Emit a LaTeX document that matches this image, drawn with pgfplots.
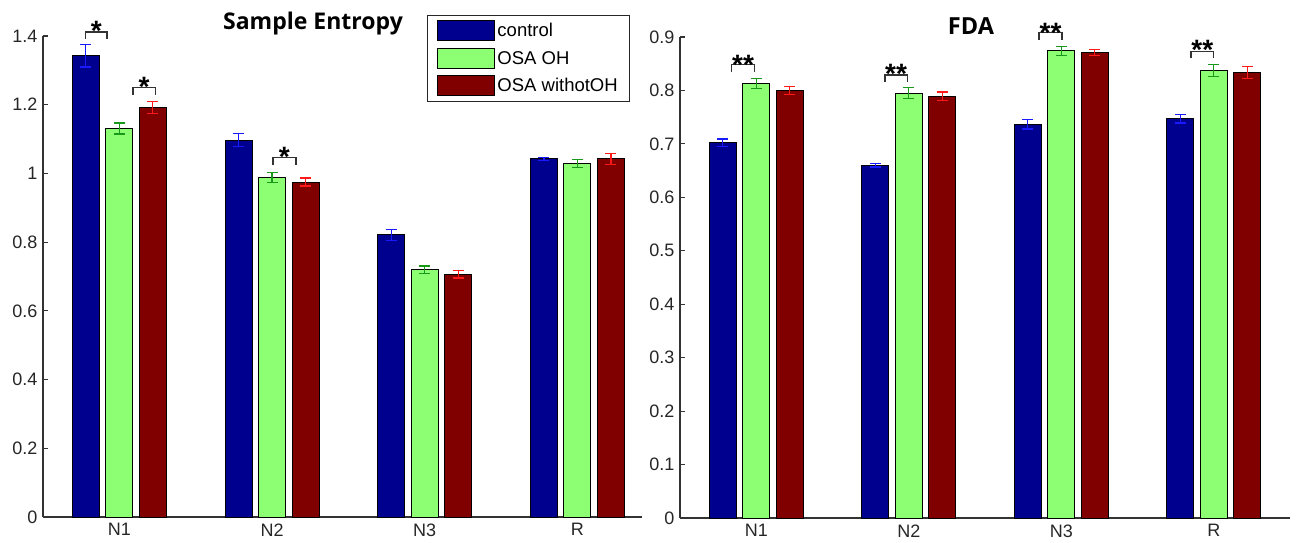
\documentclass[border=0pt]{standalone}
\usepackage{fontspec}
\setmainfont{Liberation Sans}
\newfontfamily\titlefont{Open Sans}
\usepackage{pgfplots}
\pgfplotsset{compat=1.18}

\definecolor{cblue}{rgb}{0,0,0.56}
\definecolor{cgreen}{rgb}{0.55,1,0.45}
\definecolor{cred}{rgb}{0.5,0,0}
\definecolor{eblue}{rgb}{0.1,0.1,1}
\definecolor{egreen}{rgb}{0.1,0.6,0.1}
\definecolor{ered}{rgb}{1,0.1,0.1}

\tikzset{
  brk/.style={line width=1.3pt, black!80},
  star/.style={anchor=north, inner sep=0pt, font=\fontsize{28}{30}\selectfont\bfseries},
}
\pgfplotsset{
  common/.style={
    scale only axis,
    axis lines*=left,
    axis line style={line width=1.2pt, black!80},
    clip=false,
    xmin=0.5, ymin=0,
    xtick={1,2,3,4},
    xticklabels={N1,N2,N3,R},
    major x tick style={draw=none},
    tick align=inside,
    major tick length=5pt,
    major y tick style={line width=1.2pt, black!80},
    tick label style={font=\fontsize{18}{21}\selectfont, text=black!85},
    /pgf/number format/assume math mode=true,
    /pgf/number format/fixed,
    /pgf/number format/precision=1,
    yticklabel style={xshift=-2pt},
    xticklabel style={yshift=-3pt},
  },
  errs/.style={
    error bars/y dir=both, error bars/y explicit,
    error bars/error bar style={#1, line width=1.3pt},
    error bars/error mark options={rotate=90, #1, mark size=5.5pt, line width=1.3pt}},
  barA/.style={ybar, bar width=27pt, bar shift=0pt, fill=cblue, draw=black, line width=1pt, errs=eblue},
  barB/.style={ybar, bar width=27pt, bar shift=0pt, fill=cgreen, draw=black, line width=1pt, errs=egreen},
  barC/.style={ybar, bar width=27pt, bar shift=0pt, fill=cred, draw=black, line width=1pt, errs=ered},
}

\begin{document}
\begin{tikzpicture}
\path[use as bounding box] (0,0) rectangle (1298pt,542pt);

% ---------------- Sample Entropy ----------------
\begin{axis}[common,
  at={(43pt,25pt)}, anchor=south west,
  width=599pt, height=481pt,
  xmax=4.423, ymax=1.4,
  ytick={0,0.2,0.4,0.6,0.8,1,1.2,1.4},
  legend style={at={(axis description cs:0.641,1.0437)}, anchor=north west,
    draw=black!85, line width=1pt, inner xsep=10pt, inner ysep=5pt,
    font=\fontsize{18.5}{21}\selectfont, cells={anchor=west}, row sep=6.5pt},
]
% bars of each group sit at category -0.2194, 0, +0.2194
\addplot[barA, legend image code/.code={\draw[fill=cblue, draw=black, line width=1pt] (0pt,-10pt) rectangle (57pt,10pt);}]
  coordinates {(0.7806,1.343) +- (0,0.033) (1.7806,1.097) +- (0,0.019) (2.7806,0.821) +- (0,0.016) (3.7806,1.042) +- (0,0.004)};
\addlegendentry{control}
\addplot[barB, legend image code/.code={\draw[fill=cgreen, draw=black, line width=1pt] (0pt,-10pt) rectangle (57pt,10pt);}]
  coordinates {(1,1.131) +- (0,0.016) (2,0.988) +- (0,0.014) (3,0.720) +- (0,0.011) (4,1.029) +- (0,0.012)};
\addlegendentry{OSA OH}
\addplot[barC, legend image code/.code={\draw[fill=cred, draw=black, line width=1pt] (0pt,-10pt) rectangle (57pt,10pt);}]
  coordinates {(1.2194,1.192) +- (0,0.017) (2.2194,0.975) +- (0,0.012) (3.2194,0.707) +- (0,0.011) (4.2194,1.042) +- (0,0.016)};
\addlegendentry{OSA withotOH}

\draw[brk] (axis cs:0.78,1.392) -- (axis cs:0.78,1.412) -- (axis cs:0.92,1.412) -- (axis cs:0.92,1.392);
\node[star] at (axis cs:0.85,1.444) {*};
\draw[brk] (axis cs:1.09,1.228) -- (axis cs:1.09,1.251) -- (axis cs:1.235,1.251) -- (axis cs:1.235,1.228);
\node[star] at (axis cs:1.162,1.281) {*};
\draw[brk] (axis cs:2.006,1.024) -- (axis cs:2.006,1.047) -- (axis cs:2.157,1.047) -- (axis cs:2.157,1.024);
\node[star] at (axis cs:2.08,1.078) {*};
\end{axis}

% ---------------- FDA ----------------
\begin{axis}[common,
  at={(680pt,24pt)}, anchor=south west,
  width=610pt, height=481pt,
  xmax=4.5, ymax=0.9,
  ytick={0,0.1,0.2,0.3,0.4,0.5,0.6,0.7,0.8,0.9},
]
\addplot[barA] coordinates {(0.7806,0.702) +- (0,0.007) (1.7806,0.660) +- (0,0.003) (2.7806,0.737) +- (0,0.009) (3.7806,0.747) +- (0,0.008)};
\addplot[barB] coordinates {(1,0.813) +- (0,0.010) (2,0.795) +- (0,0.010) (3,0.874) +- (0,0.008) (4,0.837) +- (0,0.011)};
\addplot[barC] coordinates {(1.2194,0.800) +- (0,0.008) (2.2194,0.789) +- (0,0.008) (3.2194,0.871) +- (0,0.006) (4.2194,0.834) +- (0,0.011)};

\draw[brk] (axis cs:0.838,0.834) -- (axis cs:0.838,0.848) -- (axis cs:0.99,0.848) -- (axis cs:0.99,0.834);
\node[star] at (axis cs:0.914,0.866) {**};
\draw[brk] (axis cs:1.845,0.816) -- (axis cs:1.845,0.829) -- (axis cs:1.99,0.829) -- (axis cs:1.99,0.816);
\node[star] at (axis cs:1.917,0.849) {**};
\draw[brk] (axis cs:2.855,0.895) -- (axis cs:2.855,0.908) -- (axis cs:3.005,0.908) -- (axis cs:3.005,0.895);
\node[star] at (axis cs:2.93,0.927) {**};
\draw[brk] (axis cs:3.85,0.860) -- (axis cs:3.85,0.873) -- (axis cs:4.0,0.873) -- (axis cs:4.0,0.860);
\node[star] at (axis cs:3.925,0.894) {**};
\end{axis}

\node[font=\titlefont\bfseries\fontsize{23}{28}\selectfont, anchor=base] at (313pt,512pt) {Sample Entropy};
\node[font=\titlefont\bfseries\fontsize{23.5}{28}\selectfont, anchor=base] at (971pt,507pt) {FDA};
\end{tikzpicture}
\end{document}
